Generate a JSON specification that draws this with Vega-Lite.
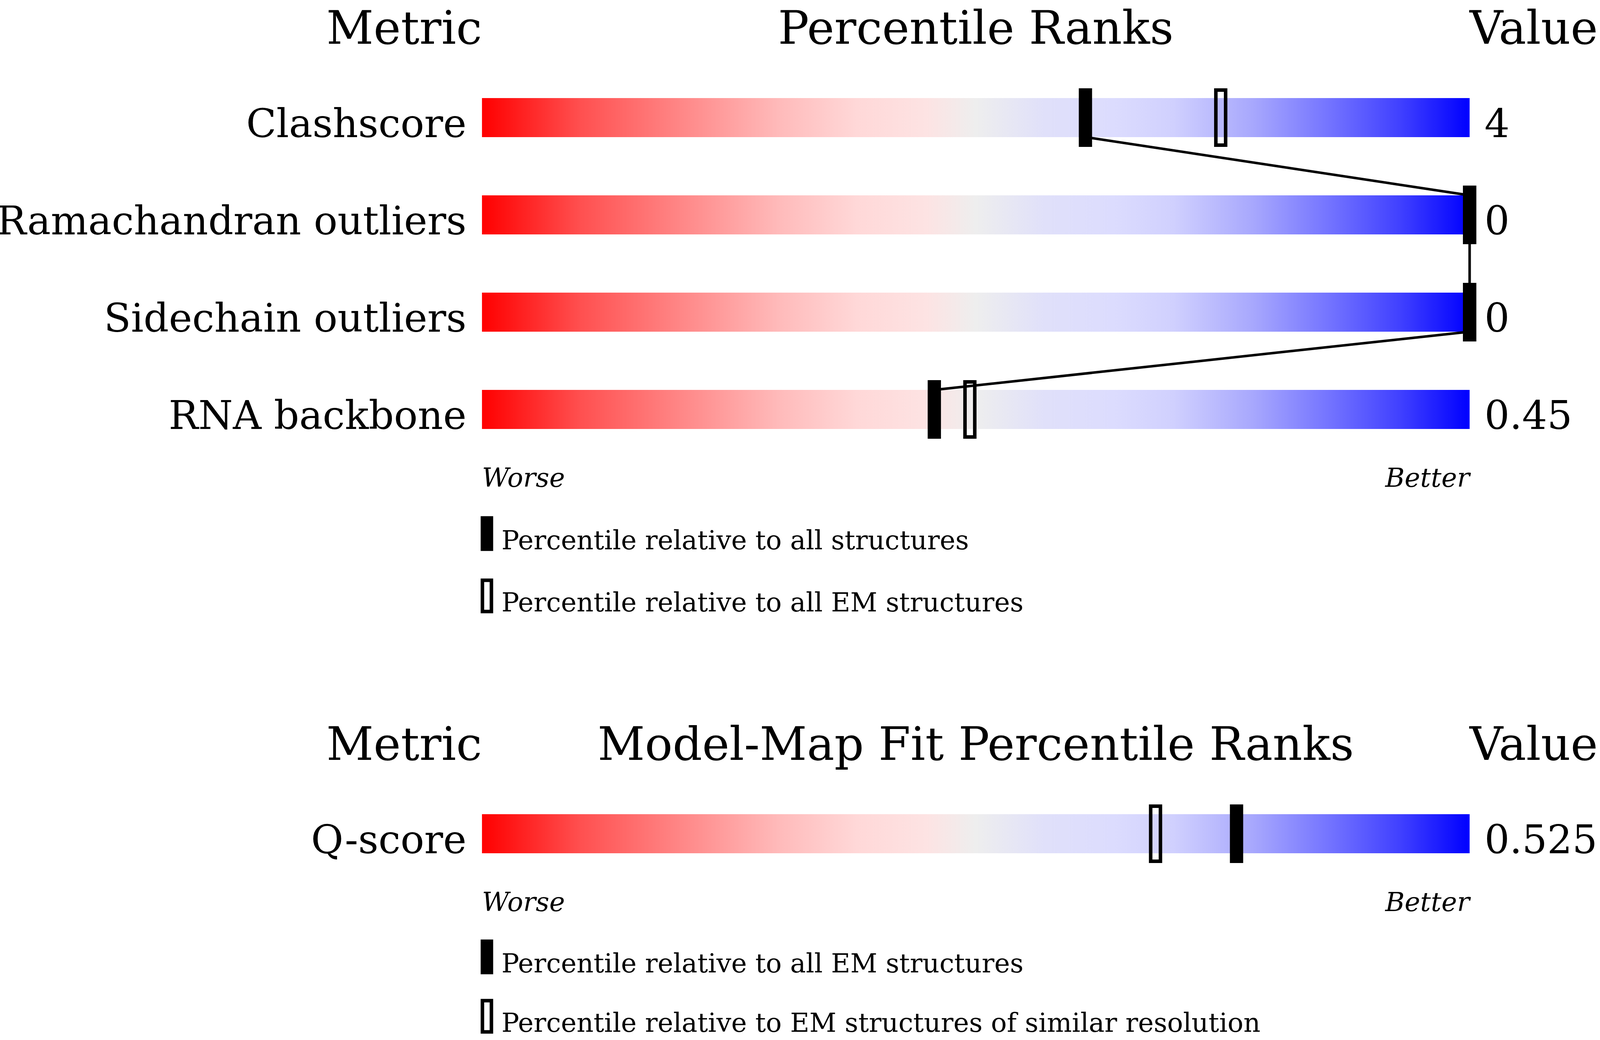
{
  "$schema": "https://vega.github.io/schema/vega-lite/v6.json",
  "description": "Validation percentile sliders",
  "width": 4096,
  "height": 2662,
  "autosize": {"type": "none"},
  "padding": 0,
  "background": "white",
  "datasets": {
    "metrics": [
      {"metric": "Clashscore", "row": 0, "value": "4", "pct_filled": 61.1, "pct_open": 74.8},
      {"metric": "Ramachandran outliers", "row": 1, "value": "0", "pct_filled": 100, "pct_open": 100},
      {"metric": "Sidechain outliers", "row": 2, "value": "0", "pct_filled": 100, "pct_open": 100},
      {"metric": "RNA backbone", "row": 3, "value": "0.45", "pct_filled": 45.8, "pct_open": 49.4},
      {"metric": "Q-score", "row": 7.36, "value": "0.525", "pct_filled": 76.4, "pct_open": 68.2}
    ],
    "links": [
      {"from": 61.1, "row": 0, "to": 100, "row_to": 1},
      {"from": 100, "row": 1, "to": 100, "row_to": 2},
      {"from": 100, "row": 2, "to": 45.8, "row_to": 3}
    ],
    "headers": [
      {"text": "Metric", "col": "metric", "row": -0.76},
      {"text": "Percentile Ranks", "col": "rank", "row": -0.76},
      {"text": "Value", "col": "value", "row": -0.76},
      {"text": "Metric", "col": "metric", "row": 6.6},
      {"text": "Model-Map Fit Percentile Ranks", "col": "rank", "row": 6.6},
      {"text": "Value", "col": "value", "row": 6.6}
    ],
    "ends": [
      {"text": "Worse", "end": "worse", "row": 3.796},
      {"text": "Better", "end": "better", "row": 3.796},
      {"text": "Worse", "end": "worse", "row": 8.156},
      {"text": "Better", "end": "better", "row": 8.156}
    ],
    "legend": [
      {"text": "Percentile relative to all structures", "row": 4.276, "open": false},
      {"text": "Percentile relative to all EM structures", "row": 4.916, "open": true},
      {"text": "Percentile relative to all EM structures", "row": 8.626, "open": false},
      {"text": "Percentile relative to EM structures of similar resolution", "row": 9.236, "open": true}
    ]
  },
  "layer": [
    {
      "data": {"name": "metrics"},
      "mark": {
        "type": "bar",
        "size": 100,
        "opacity": 1,
        "fill": {
          "gradient": "linear",
          "x1": 0, "y1": 0, "x2": 1, "y2": 0,
          "stops": [
            {"offset": 0, "color": "#ff0000"},
            {"offset": 0.1, "color": "#ff5050"},
            {"offset": 0.2, "color": "#ff8686"},
            {"offset": 0.3, "color": "#ffbaba"},
            {"offset": 0.38, "color": "#ffd8d8"},
            {"offset": 0.45, "color": "#fde3e3"},
            {"offset": 0.5, "color": "#eeeeee"},
            {"offset": 0.57, "color": "#e0e0fa"},
            {"offset": 0.64, "color": "#dcdcfe"},
            {"offset": 0.7, "color": "#d0d0fe"},
            {"offset": 0.78, "color": "#a8a8fd"},
            {"offset": 0.86, "color": "#7272ff"},
            {"offset": 0.93, "color": "#4040ff"},
            {"offset": 1, "color": "#0000ff"}
          ]
        }
      },
      "encoding": {
        "x": {"datum": 0, "type": "quantitative", "scale": {"domain": [-48.8, 113.2], "nice": false, "zero": false}, "axis": null},
        "x2": {"datum": 100},
        "y": {"field": "row", "type": "quantitative", "scale": {"domain": [-1.188, 9.46], "nice": false, "zero": false, "reverse": true}, "axis": null}
      }
    },
    {
      "data": {"name": "links"},
      "mark": {"type": "rule", "color": "black", "strokeWidth": 6.5, "opacity": 1, "yOffset": 50, "y2Offset": -50},
      "encoding": {
        "x": {"field": "from", "type": "quantitative"},
        "x2": {"field": "to"},
        "y": {"field": "row", "type": "quantitative"},
        "y2": {"field": "row_to"}
      }
    },
    {
      "data": {"name": "metrics"},
      "mark": {"type": "tick", "orient": "vertical", "size": 141, "thickness": 25, "fill": "transparent", "stroke": "black", "strokeWidth": 9, "opacity": 1},
      "encoding": {
        "x": {"field": "pct_open", "type": "quantitative"},
        "y": {"field": "row", "type": "quantitative"}
      }
    },
    {
      "data": {"name": "metrics"},
      "mark": {"type": "tick", "orient": "vertical", "size": 150, "thickness": 34, "fill": "black", "opacity": 1},
      "encoding": {
        "x": {"field": "pct_filled", "type": "quantitative"},
        "y": {"field": "row", "type": "quantitative"}
      }
    },
    {
      "data": {"name": "metrics"},
      "mark": {"type": "text", "font": "DejaVu Serif", "fontSize": 101, "align": "right", "baseline": "alphabetic", "dy": 50, "color": "black"},
      "encoding": {
        "x": {"datum": -1.57, "type": "quantitative"},
        "y": {"field": "row", "type": "quantitative"},
        "text": {"field": "metric"}
      }
    },
    {
      "data": {"name": "metrics"},
      "mark": {"type": "text", "font": "DejaVu Serif", "fontSize": 101, "align": "left", "baseline": "alphabetic", "dy": 50, "color": "black"},
      "encoding": {
        "x": {"datum": 101.5, "type": "quantitative"},
        "y": {"field": "row", "type": "quantitative"},
        "text": {"field": "value"}
      }
    },
    {
      "data": {"name": "headers"},
      "transform": [{"filter": "datum.col == 'metric'"}],
      "mark": {"type": "text", "font": "DejaVu Serif", "fontSize": 118, "align": "right", "baseline": "alphabetic", "color": "black"},
      "encoding": {
        "x": {"datum": 0, "type": "quantitative"},
        "y": {"field": "row", "type": "quantitative"},
        "text": {"field": "text"}
      }
    },
    {
      "data": {"name": "headers"},
      "transform": [{"filter": "datum.col == 'rank'"}],
      "mark": {"type": "text", "font": "DejaVu Serif", "fontSize": 118, "align": "center", "baseline": "alphabetic", "color": "black"},
      "encoding": {
        "x": {"datum": 50, "type": "quantitative"},
        "y": {"field": "row", "type": "quantitative"},
        "text": {"field": "text"}
      }
    },
    {
      "data": {"name": "headers"},
      "transform": [{"filter": "datum.col == 'value'"}],
      "mark": {"type": "text", "font": "DejaVu Serif", "fontSize": 118, "align": "left", "baseline": "alphabetic", "color": "black"},
      "encoding": {
        "x": {"datum": 100, "type": "quantitative"},
        "y": {"field": "row", "type": "quantitative"},
        "text": {"field": "text"}
      }
    },
    {
      "data": {"name": "ends"},
      "transform": [{"filter": "datum.end == 'worse'"}],
      "mark": {"type": "text", "font": "DejaVu Serif", "fontSize": 67.5, "fontStyle": "italic", "align": "left", "baseline": "alphabetic", "color": "black"},
      "encoding": {
        "x": {"datum": 0, "type": "quantitative"},
        "y": {"field": "row", "type": "quantitative"},
        "text": {"field": "text"}
      }
    },
    {
      "data": {"name": "ends"},
      "transform": [{"filter": "datum.end == 'better'"}],
      "mark": {"type": "text", "font": "DejaVu Serif", "fontSize": 67.5, "fontStyle": "italic", "align": "right", "baseline": "alphabetic", "color": "black"},
      "encoding": {
        "x": {"datum": 100, "type": "quantitative"},
        "y": {"field": "row", "type": "quantitative"},
        "text": {"field": "text"}
      }
    },
    {
      "data": {"name": "legend"},
      "transform": [{"filter": "!datum.open"}],
      "mark": {"type": "tick", "orient": "vertical", "size": 89, "thickness": 32, "fill": "black", "opacity": 1},
      "encoding": {
        "x": {"datum": 0.5, "type": "quantitative"},
        "y": {"field": "row", "type": "quantitative"}
      }
    },
    {
      "data": {"name": "legend"},
      "transform": [{"filter": "datum.open"}],
      "mark": {"type": "tick", "orient": "vertical", "size": 80, "thickness": 23, "fill": "white", "stroke": "black", "strokeWidth": 9, "opacity": 1},
      "encoding": {
        "x": {"datum": 0.5, "type": "quantitative"},
        "y": {"field": "row", "type": "quantitative"}
      }
    },
    {
      "data": {"name": "legend"},
      "mark": {"type": "text", "font": "DejaVu Serif", "fontSize": 67.5, "align": "left", "baseline": "alphabetic", "dy": 40, "color": "black"},
      "encoding": {
        "x": {"datum": 1.97, "type": "quantitative"},
        "y": {"field": "row", "type": "quantitative"},
        "text": {"field": "text"}
      }
    }
  ],
  "config": {
    "view": {"stroke": null},
    "axis": {"disable": true}
  }
}
